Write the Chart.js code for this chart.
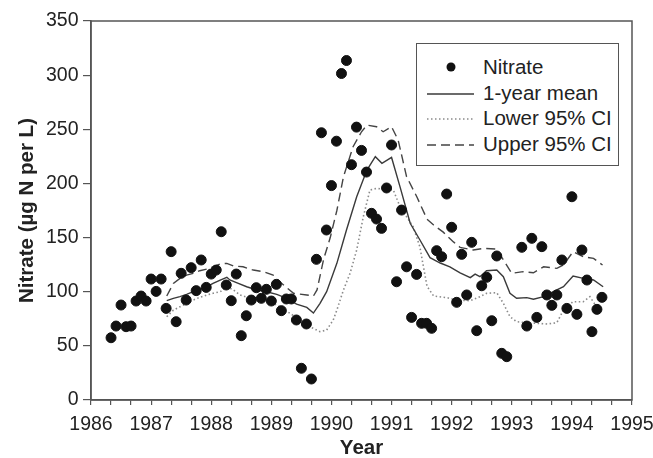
<!DOCTYPE html>
<html>
<head>
<meta charset="utf-8">
<script src="https://cdn.jsdelivr.net/npm/chart.js@4.4.1/dist/chart.umd.min.js"></script>
<style>
  html, body { margin: 0; padding: 0; background: #fff; }
  #wrap { position: relative; width: 653px; height: 458px; font-family: "Liberation Sans", Arial, sans-serif; }
  #legend {
    position: absolute; left: 416px; top: 43px; width: 201px; height: 121px;
    border: 1.5px solid #555; background: #fff; color: #222; font-size: 20.5px;
  }
  #legend .row { position: absolute; left: 0; height: 24px; width: 100%; }
  #legend .row span { position: absolute; left: 66px; top: 0; line-height: 24px; white-space: nowrap; }
  #legend svg { position: absolute; left: 0; top: 0; }
</style>
</head>
<body>
<div id="wrap">
  <canvas id="nitrate-chart" width="653" height="458"></canvas>
  <div id="legend"></div>
</div>
<script>
// Monthly nitrate samples, first sample May 1986 (null = no sample)
const firstSampleYear = 1986 + 4 / 12;
const nitrateValues = [
  57.5, 68.3, 87.7, 67.7, 68.3, 91.4, 96, 91.4, 111.7, 100.3, 111.7, 84.6,
  137, 72.3, 117, 92.3, 122.2, 101, 129.3, 104, 116.3, 120, 155.4, 106.2,
  91.7, 116.3, 59.4, 77.8, 92.3, 103.7, 93.9, 102.2, 91.4, 106.8, 82.5, 93.3,
  93.3, 73.9, 29.3, 70.2, 19.4, 129.9, 246.8, 157, 198, 239, 301.5, 313.5,
  217.3, 252, 230.5, 210.5, 172.4, 167.1, 158.5, 195.8, 235.5, 109.2, 175.4, 123,
  76.3, 116, 70.8, 70.8, 66.2, 137.9, 132.3, 190.2, 159.5, 90.2, 134.5, 97,
  145.6, 64, 105.5, 113.3, 73.2, 133, 43.1, 40, null, null, 141, 68.3,
  149.3, 76.3, 141.6, 97, 87.4, 97, 129.3, 84.6, 187.7, 79.1, 138.5, 110.8,
  63.1, 83.7, 94.8
];

// 1-year running mean
const meanYears = [
  1987.26, 1987.37, 1987.48, 1987.59, 1987.70, 1987.81, 1987.93, 1988.03, 1988.15, 1988.26,
  1988.31, 1988.42, 1988.59, 1988.76, 1988.92, 1989.09, 1989.26, 1989.42, 1989.59, 1989.70,
  1989.81, 1989.92, 1990.09, 1990.25, 1990.42, 1990.59, 1990.73, 1990.84, 1991.00, 1991.14,
  1991.31, 1991.47, 1991.64, 1991.81, 1991.97, 1992.14, 1992.31, 1992.39, 1992.47, 1992.58,
  1992.75, 1992.86, 1992.97, 1993.08, 1993.25, 1993.36, 1993.53, 1993.69, 1993.86, 1994.02,
  1994.19, 1994.36, 1994.52
];
const meanValues = [
  91.7, 93.9, 95.4, 97.6, 100, 102.2, 104.6, 107.7, 110.8, 113.3,
  110.8, 108.3, 104.6, 101.6, 100, 97.6, 93.9, 88.6, 85.5, 80.3,
  89.3, 100, 126.2, 157, 187.7, 212.4, 224.7, 218.6, 224, 197,
  163.2, 148, 131.5, 126.5, 123, 117.5, 113, 116.3, 113.9, 119.4,
  120, 113.9, 98.5, 93.9, 94.5, 93, 95.4, 100, 104.6, 114.5,
  112.3, 110.8, 104.6
];

// Upper 95% confidence limit
const upperYears = [
  1987.26, 1987.37, 1987.48, 1987.59, 1987.70, 1987.81, 1987.93, 1988.03, 1988.15, 1988.26,
  1988.37, 1988.53, 1988.70, 1988.87, 1989.03, 1989.14, 1989.37, 1989.59, 1989.70, 1989.76,
  1989.87, 1989.98, 1990.09, 1990.20, 1990.36, 1990.50, 1990.59, 1990.75, 1990.86, 1991.00,
  1991.11, 1991.25, 1991.42, 1991.59, 1991.70, 1991.86, 1992.03, 1992.14, 1992.36, 1992.53,
  1992.75, 1992.86, 1993.00, 1993.19, 1993.36, 1993.53, 1993.75, 1993.86, 1994.02, 1994.19,
  1994.36, 1994.51
];
const upperValues = [
  96, 107.7, 112.3, 115.4, 116.9, 119.4, 121, 123, 125.6, 126.2,
  123.7, 123, 120, 118.5, 115.4, 109.2, 98.5, 97, 96, 101.6,
  130, 150, 175, 206.2, 233.9, 247.7, 253.9, 252.4, 247.7, 252.4,
  240, 206.2, 187.7, 167, 161.6, 155, 146, 141, 138.5, 140,
  139.4, 129.3, 117, 118.5, 117.5, 123, 121.6, 124.7, 137, 132.3,
  130.8, 124.7
];

// Lower 95% confidence limit
const lowerYears = [
  1987.26, 1987.37, 1987.48, 1987.59, 1987.70, 1987.81, 1987.93, 1988.03, 1988.15, 1988.26,
  1988.37, 1988.48, 1988.65, 1988.81, 1988.98, 1989.14, 1989.31, 1989.48, 1989.64, 1989.81,
  1989.92, 1990.03, 1990.09, 1990.20, 1990.31, 1990.42, 1990.53, 1990.64, 1990.75, 1991.03,
  1991.14, 1991.25, 1991.36, 1991.47, 1991.59, 1991.70, 1991.92, 1992.08, 1992.31, 1992.47,
  1992.58, 1992.75, 1992.86, 1992.97, 1993.08, 1993.25, 1993.42, 1993.59, 1993.75, 1993.86,
  1994.02, 1994.19, 1994.30, 1994.41, 1994.51
];
const lowerValues = [
  76.9, 83, 86.1, 89.3, 92.3, 94.8, 97, 98.5, 100, 104.6,
  101.6, 97, 93.9, 93, 90.8, 86.1, 80, 73.9, 67.7, 63.1,
  64.6, 73.9, 83.1, 101.6, 117, 138.5, 169.2, 193.9, 195.4, 193.9,
  178.5, 169.2, 160, 141.6, 105, 96, 94.5, 92.3, 91.7, 95.4,
  98.5, 99.1, 89.3, 76.9, 72.3, 71.4, 70.8, 70.2, 71.4, 83.1,
  90.8, 90.8, 95.4, 86.1, 83.1
];

const yearLabels = [1986, 1987, 1988, 1989, 1990, 1991, 1992, 1993, 1994, 1995];
const yTicks = [0, 50, 100, 150, 200, 250, 300, 350];

const seriesNames = ['Nitrate', '1-year mean', 'Lower 95% CI', 'Upper 95% CI'];

const axisColor = '#555';
const textColor = '#222';
const fontFamily = '"Liberation Sans", Arial, sans-serif';

function pairs(xs, ys) {
  return xs.map((x, i) => ({ x: x, y: ys[i] }));
}

const nitratePoints = nitrateValues
  .map((v, i) => ({ x: firstSampleYear + i / 12, y: v }))
  .filter(p => p.y !== null);

// Box around the plot (Chart.js only draws the left/bottom axis lines)
const frame = {
  id: 'frame',
  afterDatasetsDraw(chart) {
    const a = chart.chartArea;
    const ctx = chart.ctx;
    ctx.save();
    ctx.strokeStyle = axisColor;
    ctx.lineWidth = 1.5;
    ctx.strokeRect(a.left, a.top, a.right - a.left, a.bottom - a.top);
    ctx.restore();
  }
};

new Chart(document.getElementById('nitrate-chart'), {
  type: 'scatter',
  data: {
    datasets: [
      {
        label: seriesNames[0],
        data: nitratePoints,
        backgroundColor: '#111',
        borderColor: '#111',
        pointRadius: 5,
        pointHoverRadius: 5,
        order: 0
      },
      {
        label: seriesNames[1],
        data: pairs(meanYears, meanValues),
        showLine: true,
        borderColor: '#3a3a3a',
        borderWidth: 1.4,
        pointRadius: 0,
        order: 1
      },
      {
        label: seriesNames[2],
        data: pairs(lowerYears, lowerValues),
        showLine: true,
        borderColor: '#8a8a8a',
        borderWidth: 1.6,
        borderDash: [1.5, 2.5],
        pointRadius: 0,
        order: 2
      },
      {
        label: seriesNames[3],
        data: pairs(upperYears, upperValues),
        showLine: true,
        borderColor: '#444',
        borderWidth: 1.4,
        borderDash: [9, 5],
        pointRadius: 0,
        order: 3
      }
    ]
  },
  options: {
    responsive: false,
    animation: false,
    layout: { padding: { top: 21, right: 21, left: 0, bottom: 0 } },
    plugins: {
      legend: { display: false },
      tooltip: { enabled: false }
    },
    scales: {
      x: {
        type: 'linear',
        min: 1986,
        max: 1995,
        afterBuildTicks(scale) {
          const t = [];
          yearLabels.forEach((y, i) => {
            t.push({ value: y });
            if (i < yearLabels.length - 1) {
              t.push({ value: y + 1 / 3 });
              t.push({ value: y + 2 / 3 });
            }
          });
          scale.ticks = t;
        },
        afterFit(scale) {
          scale.height = 58;
          scale.paddingLeft = 0;
          scale.paddingRight = 0;
        },
        ticks: {
          autoSkip: false,
          maxRotation: 0,
          padding: 8,
          color: textColor,
          font: { family: fontFamily, size: 19.5 },
          callback: v => (Math.abs(v - Math.round(v)) < 1e-6 ? String(Math.round(v)) : '')
        },
        grid: { drawOnChartArea: false, tickLength: 5, color: axisColor, lineWidth: 1.2 },
        border: { color: axisColor, width: 1.5 },
        title: {
          display: true,
          text: 'Year',
          color: textColor,
          padding: { top: 0, bottom: 0 },
          font: { family: fontFamily, size: 20.5, weight: 'bold', lineHeight: 0.9 }
        }
      },
      y: {
        min: 0,
        max: 350,
        afterBuildTicks(scale) {
          scale.ticks = yTicks.map(v => ({ value: v }));
        },
        afterFit(scale) {
          scale.width = 91;
        },
        ticks: {
          padding: 4.5,
          color: textColor,
          font: { family: fontFamily, size: 19.5 }
        },
        grid: { drawOnChartArea: false, tickLength: 8, color: axisColor, lineWidth: 1.2 },
        border: { color: axisColor, width: 1.5 },
        title: {
          display: true,
          text: 'Nitrate (µg N per L)',
          color: textColor,
          padding: { top: 14.7, bottom: 0 },
          font: { family: fontFamily, size: 20.5, weight: 'bold' }
        }
      }
    }
  },
  plugins: [frame]
});

// Legend box inside the plot, as in the figure
(function buildLegend() {
  const legend = document.getElementById('legend');
  const rowTops = [11, 37, 62, 88];
  const svgNS = 'http://www.w3.org/2000/svg';
  const styles = [null,
    { c: '#3a3a3a', w: 1.4, d: '' },
    { c: '#8a8a8a', w: 1.6, d: '1.5 2.5' },
    { c: '#444', w: 1.4, d: '9 5' }];
  seriesNames.forEach((name, i) => {
    const row = document.createElement('div');
    row.className = 'row';
    row.style.top = rowTops[i] + 'px';
    const svg = document.createElementNS(svgNS, 'svg');
    svg.setAttribute('width', '64');
    svg.setAttribute('height', '24');
    let el;
    if (i === 0) {
      el = document.createElementNS(svgNS, 'circle');
      el.setAttribute('cx', '34');
      el.setAttribute('cy', '12');
      el.setAttribute('r', '4.5');
      el.setAttribute('fill', '#111');
    } else {
      el = document.createElementNS(svgNS, 'line');
      el.setAttribute('x1', '10');
      el.setAttribute('x2', '57');
      el.setAttribute('y1', '13');
      el.setAttribute('y2', '13');
      el.setAttribute('stroke', styles[i].c);
      el.setAttribute('stroke-width', styles[i].w);
      if (styles[i].d) el.setAttribute('stroke-dasharray', styles[i].d);
    }
    svg.appendChild(el);
    row.appendChild(svg);
    const span = document.createElement('span');
    span.textContent = name;
    row.appendChild(span);
    legend.appendChild(row);
  });
})();
</script>
</body>
</html>
